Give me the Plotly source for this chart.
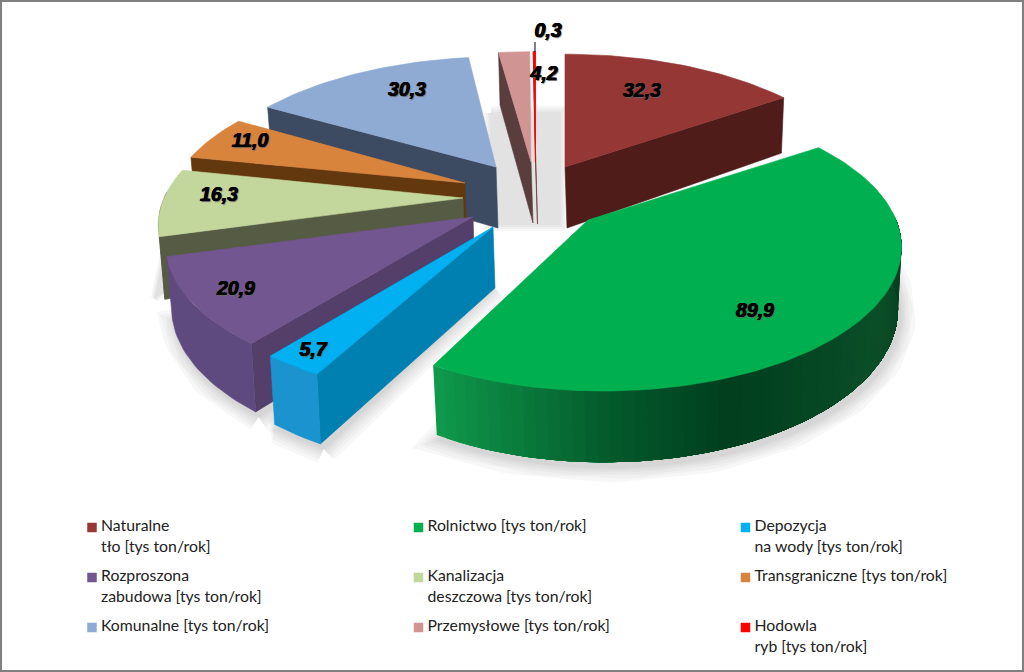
import math
import plotly.graph_objects as go

# ---- data ----
categories = [
    "Naturalne\ntło [tys ton/rok]", "Rolnictwo [tys ton/rok]", "Depozycja\nna wody [tys ton/rok]",
    "Rozproszona\nzabudowa [tys ton/rok]", "Kanalizacja\ndeszczowa [tys ton/rok]", "Transgraniczne [tys ton/rok]",
    "Komunalne [tys ton/rok]", "Przemysłowe [tys ton/rok]", "Hodowla\nryb [tys ton/rok]",
]
values = [32.3, 89.9, 5.7, 20.9, 16.3, 11.0, 30.3, 4.2, 0.3]
value_labels = ["32,3", "89,9", "5,7", "20,9", "16,3", "11,0", "30,3", "4,2", "0,3"]

# ---- styles ----
top_colors = ["#953735", "#00b050", "#00b0f0", "#72568f", "#c3d69b", "#d9843d", "#8faad3", "#d09593", "#ff0000"]
wall_colors = ["#4f1c1a", "#0b5a2c", "#0080b0", "#543e6a", "#565c44", "#63380f", "#3c4a62", "#5a3d3d", "#6a2c2c"]
outer_colors = ["#4f1c1a", None, "#1a93cf", "#5f4a80", "#565c44", "#63380f", "#3c4a62", "#5a3d3d", "#6a2c2c"]
legend_colors = ["#953735", "#00b050", "#00b0f0", "#72568f", "#c3d69b", "#d9843d", "#8faad3", "#d09593", "#ff0000"]
green_stops = [(90, "#083d1f"), (125, "#0b4f28"), (160, "#013f1f"), (180, "#055c2d"), (195, "#0b7f3e"), (209, "#109c4e")]

# ---- layout of the exploded slices, in pixels ----
RX, RY, PERSP = 300.0, 136.0, 0.2
centers = [(565, 167.5), (603, 218.5), (491, 229.5), (472, 217), (464.5, 197), (473, 184), (502, 170), (532, 165), (535.5, 165)]
tips = [(565, 167), (588, 220), (493, 227), (473, 217), (463, 198), (465, 183), (496, 167), (531, 162), (535.5, 163)]
x_scale = [0.99, 0.975, 1, 1, 1, 1, 1, 1, 1]
y_scale = [1, 1.015, 1, 1, 1, 1, 1, 1, 1]
label_xy = [(642, 92), (755, 312), (313, 351), (236, 290), (219, 196), (250, 142), (407, 91), (544, 75), (548, 32)]
draw_order = [7, 8, 6, 5, 4, 3, 2, 0, 1]
legend_cols = [92, 418.5, 745.5]
legend_rows = [527.5, 577.5, 627.5]

total = sum(values)
angles = [0.0]
for v in values:
    angles.append(angles[-1] + v / total * 360.0)


def scale(th):
    return 1.0 / (1.0 + PERSP * math.cos(math.radians(th)))


def top_pt(i, th):
    s = scale(th)
    ax, ay = centers[i]
    return (ax + RX * x_scale[i] * math.sin(math.radians(th)) * s,
            ay - RY * y_scale[i] * math.cos(math.radians(th)) * s)


def depth(th):
    return 60 + 45 * (scale(th) - 1)


def bot_pt(i, th):
    x, y = top_pt(i, th)
    ax = centers[i][0]
    return ax + 1 + (x - ax) * 0.985, y + depth(th)


def arc(i, a, b, fn=top_pt, step=1.5):
    n = max(2, int(abs(b - a) / step) + 1)
    return [fn(i, a + (b - a) * k / (n - 1)) for k in range(n)]


def lerp_color(stops, th):
    th = max(stops[0][0], min(stops[-1][0], th))
    for (a, ca), (b, cb) in zip(stops, stops[1:]):
        if a <= th <= b:
            t = (th - a) / (b - a)
            r = [int(ca[j:j + 2], 16) * (1 - t) + int(cb[j:j + 2], 16) * t for j in (1, 3, 5)]
            return "#%02x%02x%02x" % tuple(int(v) for v in r)
    return stops[-1][1]


fig = go.Figure()


def poly(pts, color, line=None, lw=0.6, opacity=None):
    xs = [p[0] for p in pts] + [pts[0][0]]
    ys = [p[1] for p in pts] + [pts[0][1]]
    fig.add_trace(go.Scatter(x=xs, y=ys, mode="lines", fill="toself", fillcolor=color,
                             line=dict(color=line or color, width=lw), hoverinfo="skip",
                             showlegend=False, opacity=opacity))


def blurred(pts, color="#808080", widths=(30, 23, 17, 11, 6, 2), op=0.05):
    for w in widths:
        poly(pts, color, line=color, lw=w, opacity=op)


# soft shadows laid on the page
blurred([(491, 113), (560, 113), (560, 224), (491, 224)], widths=(14, 10, 6, 2), op=0.055)
blurred([(165, 250), (155, 298), (172, 286)], widths=(8, 4, 1), op=0.08)
for i in (1, 2, 3):
    a0, a1 = angles[i], angles[i + 1]
    low = arc(i, a0, a1, bot_pt)
    shadow = [(x + 3, y + 5) for x, y in low] + [(tips[i][0], tips[i][1] + 60)]
    blurred(shadow, op=0.055)

# slices, back to front
for i in draw_order:
    a0, a1 = angles[i], angles[i + 1]
    tip = tips[i]
    tip_bot = (tip[0] + 2, tip[1] + 61)
    # radial walls that face the viewer
    if math.sin(math.radians(a0)) < 0:
        poly([tip, top_pt(i, a0), bot_pt(i, a0), tip_bot], wall_colors[i])
    if math.sin(math.radians(a1)) > 0:
        poly([tip, top_pt(i, a1), bot_pt(i, a1), tip_bot], wall_colors[i])
    # outer rim, only where it faces the viewer
    lo, hi = max(a0, 90.0), min(a1, 272.0)
    if hi > lo:
        if outer_colors[i] is None:
            # bands painted from the far end, each one covering the rest of the rim
            steps = 60
            for k in range(steps - 1, -1, -1):
                t0 = lo + (hi - lo) * k / steps
                t1 = lo + (hi - lo) * (k + 1) / steps
                c = lerp_color(green_stops, (t0 + t1) / 2)
                poly(arc(i, t1, lo) + arc(i, lo, t1, bot_pt), c, lw=0)
        else:
            poly(arc(i, lo, hi) + arc(i, hi, lo, bot_pt), outer_colors[i])
    # top face
    lw = 0.9 if values[i] < 1 else 0.6
    poly([tip] + arc(i, a0, a1), top_colors[i], lw=lw)

# leader line of the smallest slice
fig.add_trace(go.Scatter(x=[535, 535], y=[42, 52], mode="lines", line=dict(color="#000000", width=1),
                         hoverinfo="skip", showlegend=False))

# value labels
fig.add_trace(go.Scatter(
    x=[p[0] for p in label_xy], y=[p[1] for p in label_xy], text=value_labels, mode="text",
    textposition="middle center", hoverinfo="skip", showlegend=False,
    textfont=dict(family="Liberation Sans", size=19.5, color="#000000", weight="bold", style="italic",
                  shadow="0.5px 0 0 #000000, -0.4px 0 0 #000000, 1px 1px 1px #666666"),
))

# legend
leg_x, leg_y, leg_c, txt_x, txt_y, txt = [], [], [], [], [], []
for i, name in enumerate(categories):
    col, row = i % 3, i // 3
    leg_x.append(legend_cols[col])
    leg_y.append(legend_rows[row])
    leg_c.append(legend_colors[i])
    for j, part in enumerate(name.split("\n")):
        txt_x.append(legend_cols[col] + 9)
        txt_y.append(legend_rows[row] + j * 21)
        txt.append(part)
fig.add_trace(go.Scatter(x=leg_x, y=leg_y, mode="markers", hoverinfo="skip", showlegend=False,
                         marker=dict(symbol="square", size=9.5, color=leg_c, line=dict(width=0))))
fig.add_trace(go.Scatter(x=txt_x, y=txt_y, text=txt, mode="text", textposition="middle right",
                         hoverinfo="skip", showlegend=False,
                         textfont=dict(family="Lato", size=15.8, color="#222222")))

fig.update_layout(
    width=1024, height=672, margin=dict(l=0, r=0, t=0, b=0),
    paper_bgcolor="#ffffff", plot_bgcolor="#ffffff", showlegend=False,
    xaxis=dict(range=[0, 1024], visible=False, fixedrange=True),
    yaxis=dict(range=[672, 0], visible=False, fixedrange=True),
    shapes=[dict(type="rect", xref="paper", yref="paper", x0=0.001, y0=0.0015, x1=0.999, y1=0.9985,
                 line=dict(color="#7f7f7f", width=2), fillcolor="rgba(0,0,0,0)")],
)
fig.write_html("out.html", config=dict(displayModeBar=False),
               post_script="document.body.style.margin='0';document.body.style.overflow='hidden';")
